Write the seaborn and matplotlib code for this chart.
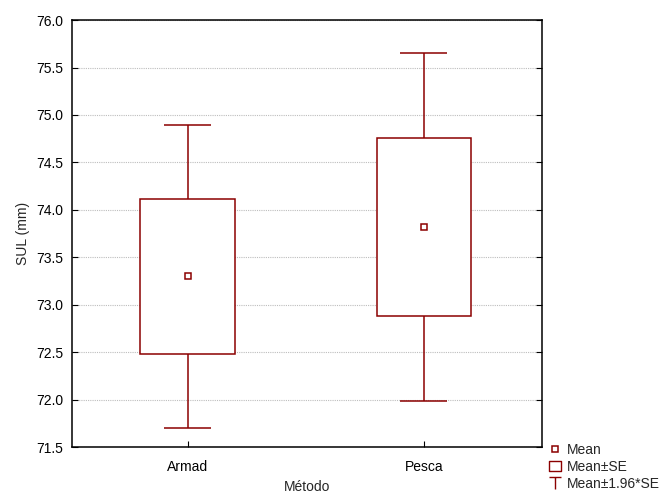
import numpy as np
import pandas as pd
import matplotlib
matplotlib.use("Agg")
import matplotlib.pyplot as plt
from matplotlib.lines import Line2D
from matplotlib.path import Path
import seaborn as sns

# Group means and standard errors of SUL by capture method
methods = ["Armad", "Pesca"]
means = [73.30, 73.82]
se = [0.815, 0.935]

sns.set_theme(style="white")
plt.rcParams["font.family"] = ["Liberation Sans", "DejaVu Sans"]

df = pd.DataFrame({"Método": methods, "mean": means, "se": se})
df["se_lo"] = df["mean"] - df["se"]
df["se_hi"] = df["mean"] + df["se"]
df["ci_lo"] = df["mean"] - 1.96 * df["se"]
df["ci_hi"] = df["mean"] + 1.96 * df["se"]

red = "#8b0000"
fs = 10
fig = plt.figure(figsize=(6.6, 4.93), dpi=100)
ax = fig.add_axes([0.109, 0.0933, 0.712, 0.866])

x = np.arange(len(methods))
box_w = 0.40
cap_w = 0.20

# whiskers (mean ± 1.96*SE)
ax.vlines(x, df["ci_lo"], df["ci_hi"], color=red, lw=1.1, zorder=2)
ax.hlines(df["ci_lo"], x - cap_w / 2, x + cap_w / 2, color=red, lw=1.1, zorder=2)
ax.hlines(df["ci_hi"], x - cap_w / 2, x + cap_w / 2, color=red, lw=1.1, zorder=2)
# boxes (mean ± SE), filled white so the whisker stops at the box edges
ax.bar(x, df["se_hi"] - df["se_lo"], bottom=df["se_lo"], width=box_w,
       facecolor="white", edgecolor=red, linewidth=1.1, zorder=3)

# means
n_before = len(ax.lines)
sns.pointplot(data=df, x="Método", y="mean", order=methods, errorbar=None,
              marker="s", linestyle="none", color=red, markersize=4.5,
              markerfacecolor="white", markeredgewidth=1.1, ax=ax)
for ln in ax.lines[n_before:]:
    ln.set_zorder(5)

ax.set_xlim(-0.49, 1.5)
ax.set_ylim(71.5, 76.0)
yt = np.arange(71.5, 76.01, 0.5)
ax.set_yticks(yt)
ax.set_yticklabels([f"{v:.1f}" for v in yt])
ax.set_xticks(x)
ax.set_xticklabels(methods)
ax.yaxis.grid(True, linestyle=(0, (1, 1)), color="#bdbdbd", linewidth=0.8)
ax.set_axisbelow(True)
for s in ax.spines.values():
    s.set_color("black")
    s.set_linewidth(1.1)
ax.tick_params(axis="both", direction="in", length=4, width=0.8, colors="black",
               labelsize=fs, right=True, left=True, bottom=True)
ax.tick_params(axis="x", pad=9)
ax.tick_params(axis="y", pad=6)
ax.set_ylabel("SUL (mm)", fontsize=fs, labelpad=5)
ax.set_xlabel("Método", fontsize=fs, labelpad=5)

# legend
t_path = Path([(-1, 1), (1, 1), (0, 1), (0, -1)],
              [Path.MOVETO, Path.LINETO, Path.MOVETO, Path.LINETO])
rect_path = Path([(-1, -0.8), (1, -0.8), (1, 0.8), (-1, 0.8), (-1, -0.8)],
                 [Path.MOVETO, Path.LINETO, Path.LINETO, Path.LINETO, Path.CLOSEPOLY])
handles = [
    Line2D([], [], linestyle="none", marker="s", markersize=3.8, markerfacecolor="white",
           markeredgecolor=red, markeredgewidth=1.1),
    Line2D([], [], linestyle="none", marker=rect_path, markersize=9, markerfacecolor="white",
           markeredgecolor=red, markeredgewidth=1.0),
    Line2D([], [], linestyle="none", marker=t_path, markersize=8, markerfacecolor="none",
           markeredgecolor=red, markeredgewidth=1.0),
]
fig.legend(handles, ["Mean", "Mean±SE", "Mean±1.96*SE"], loc="lower left",
           bbox_to_anchor=(0.815, -0.016), frameon=False, fontsize=fs,
           handlelength=1.0, handletextpad=0.4, labelspacing=0.22, borderpad=0.2)

fig.savefig("out.png", dpi=100, facecolor="white")
